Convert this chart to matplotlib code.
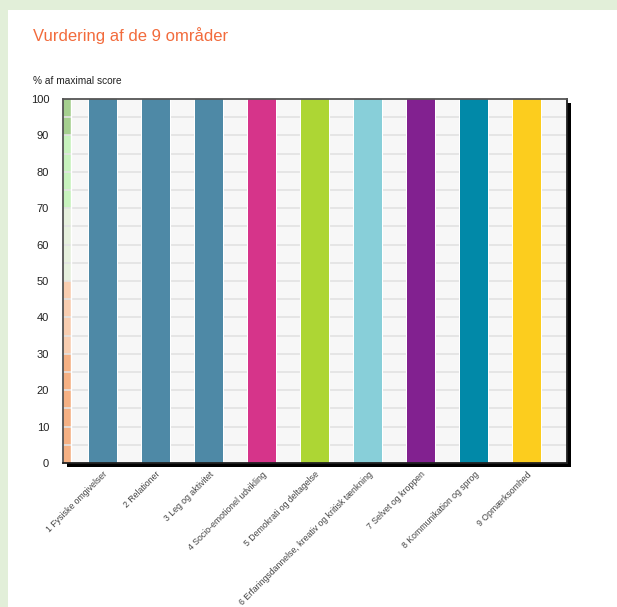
import matplotlib.pyplot as plt
from matplotlib.patches import Rectangle
import numpy as np

plt.rcParams['font.family'] = ['Liberation Sans', 'DejaVu Sans']

categories = ["1 Fysiske omgivelser", "2 Relationer", "3 Leg og aktivitet",
              "4 Socio-emotionel udvikling", "5 Demokrati og deltagelse",
              "6 Erfaringsdannelse, kreativ og kritisk tænkning",
              "7 Selvet og kroppen", "8 Kommunikation og sprog",
              "9 Opmærksomhed"]
scores = [100, 100, 100, 100, 100, 100, 100, 100, 100]
bar_colors = ["#4e89a6", "#4e89a6", "#4e89a6", "#d6348a", "#add634",
              "#88cfd9", "#822190", "#0189a8", "#fccd1e"]

# colour band on the left (score zones)
band_edges = [0, 30, 50, 70, 90, 100]
band_colors = ["#f5b083", "#f8cdb0", "#e6f0dd", "#c7f2bd", "#a5cf8f"]

W, H = 617, 607
fig = plt.figure(figsize=(W / 100, H / 100), dpi=100, facecolor="#e2efd9")

# white panel
fig.patches.append(Rectangle((8 / W, 0), 1, 1 - 10 / H, transform=fig.transFigure,
                             facecolor="white", edgecolor="none", zorder=0))

# plot box in pixels
x0, x1, y0, y1 = 63, 567, 99, 463
# shadow
fig.patches.append(Rectangle(((x0 + 4) / W, 1 - (y1 + 4) / H), (x1 - x0) / W, (y1 - y0) / H,
                             transform=fig.transFigure, facecolor="black",
                             edgecolor="none", zorder=1))

ax = fig.add_axes([x0 / W, 1 - y1 / H, (x1 - x0) / W, (y1 - y0) / H], zorder=2)
ax.set_facecolor("#f7f7f7")

x = np.arange(len(categories))
ax.set_xlim(-0.755, len(categories) - 1 + 0.755)
ax.set_ylim(0, 100)

for lo, hi, c in zip(band_edges[:-1], band_edges[1:], band_colors):
    ax.add_patch(Rectangle((-0.755, lo), 0.155, hi - lo, facecolor=c,
                           edgecolor="none", zorder=1))

for yv in range(5, 100, 5):
    ax.axhline(yv, color="#e2e2e2", lw=1.2, zorder=1.5)

# thin white column separators
for xi in x:
    for e in (xi - 0.255, xi + 0.255):
        ax.axvline(e, color="white", lw=1.5, zorder=1.6)
ax.axvline(-0.6, color="white", lw=1.0, zorder=1.6)

ax.bar(x, scores, width=0.51, color=bar_colors, edgecolor="none", zorder=2)

ax.set_yticks(range(0, 101, 10))
ax.tick_params(axis="y", length=0, pad=10, labelsize=8, labelcolor="#222222")
ax.set_xticks(x)
ax.set_xticklabels(categories, rotation=45, ha="right", rotation_mode="anchor",
                   fontsize=6.3, color="#444444")
ax.tick_params(axis="x", length=0, pad=5)

for s in ("top", "left"):
    ax.spines[s].set_color("#555555")
    ax.spines[s].set_linewidth(1.3)
for s in ("bottom", "right"):
    ax.spines[s].set_color("#222222")
    ax.spines[s].set_linewidth(1.3)

fig.text(33 / W, 1 - 36 / H, "Vurdering af de 9 områder", color="#f26b3c",
         fontsize=12, va="center", ha="left")
fig.text(33 / W, 1 - 81 / H, "% af maximal score", color="#222222",
         fontsize=7.3, va="center", ha="left")

fig.savefig("out.png", dpi=100, facecolor=fig.get_facecolor())
